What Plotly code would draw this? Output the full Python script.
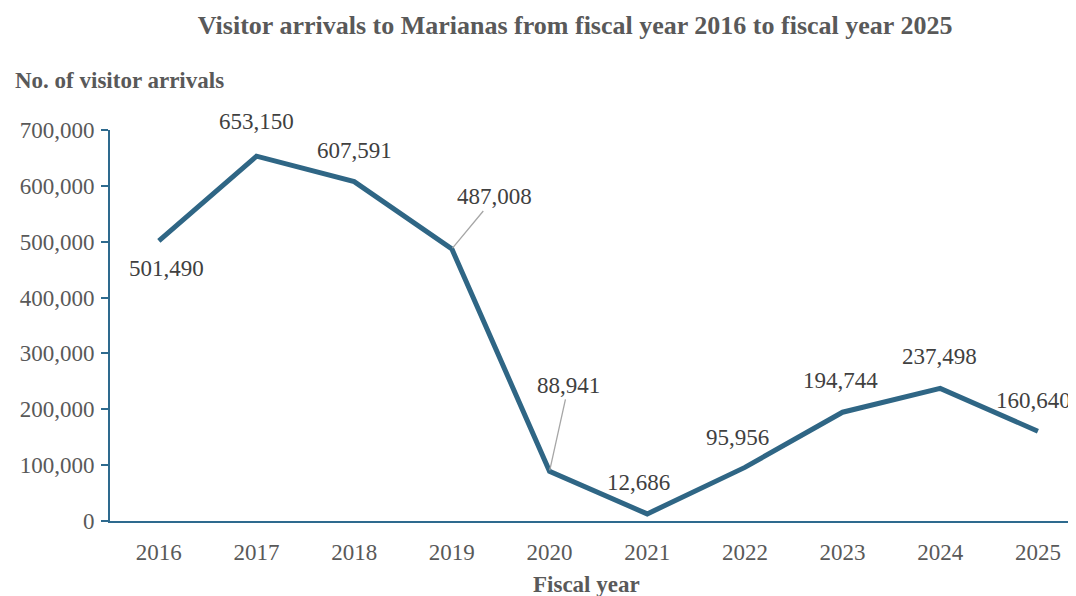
import plotly.graph_objects as go

years = ["2016", "2017", "2018", "2019", "2020", "2021", "2022", "2023", "2024", "2025"]
arrivals = [501490, 653150, 607591, 487008, 88941, 12686, 95956, 194744, 237498, 160640]
label_text = ["501,490", "653,150", "607,591", "487,008", "88,941", "12,686", "95,956", "194,744", "237,498", "160,640"]

LINE = "#2f6685"
AXIS = "#2e6a8e"
TICK = "#595959"
LBL = "#404040"
FONT = "Liberation Serif, Times New Roman, serif"

fig = go.Figure()
fig.add_trace(go.Scatter(x=list(range(len(years))), y=arrivals, mode="lines",
                         line=dict(color=LINE, width=5), hoverinfo="y"))

# label offsets (px): (xshift, yshift) or arrow (ax, ay)
plain = {0: (8, -28), 1: (0, 35), 2: (0, 31), 5: (-9, 31), 6: (-7, 30),
         7: (-2, 32), 8: (-1, 32), 9: (-4, 31)}
arrow = {3: (43, -52), 4: (19, -86)}

for i, (v, t) in enumerate(zip(arrivals, label_text)):
    if i in plain:
        xs, ys = plain[i]
        fig.add_annotation(x=i, y=v, text=t, showarrow=False, xshift=xs, yshift=ys,
                           font=dict(family=FONT, size=23, color=LBL))
    else:
        ax, ay = arrow[i]
        fig.add_annotation(x=i, y=v, text=t, showarrow=True, ax=ax, ay=ay,
                           arrowhead=0, arrowwidth=1.3, arrowcolor="#a6a6a6",
                           standoff=1, startstandoff=0,
                           font=dict(family=FONT, size=23, color=LBL))

fig.add_annotation(text="<b>No. of visitor arrivals</b>", xref="paper", yref="paper",
                   x=-0.1004, xanchor="left", y=1.0, yshift=50, yanchor="middle",
                   showarrow=False, font=dict(family=FONT, size=23, color=TICK))
fig.add_annotation(text="<b>Fiscal year</b>", xref="paper", yref="paper",
                   x=0.493, xanchor="center", y=0.0, yshift=-63, yanchor="middle",
                   showarrow=False, font=dict(family=FONT, size=23, color=TICK))

fig.update_layout(
    width=1068, height=588,
    margin=dict(l=102, r=0, t=122, b=75),
    paper_bgcolor="white", plot_bgcolor="white",
    showlegend=False,
    title=dict(text="<b>Visitor arrivals to Marianas from fiscal year 2016 to fiscal year 2025</b>",
               x=0.531, xanchor="center", y=0.971, yanchor="middle",
               font=dict(family=FONT, size=26, color=TICK)),
    xaxis=dict(range=[-0.5, 9.39], showgrid=False, zeroline=False,
               tickmode="array", tickvals=list(range(len(years))), ticktext=years,
               showline=True, linecolor=AXIS, linewidth=2, ticks="",
               tickfont=dict(family=FONT, size=23, color=TICK), ticklabelstandoff=9),
    yaxis=dict(range=[0, 700000], dtick=100000, showgrid=False, zeroline=False,
               showline=True, linecolor=AXIS, linewidth=2, ticks="outside",
               ticklen=7, tickwidth=2, tickcolor=AXIS, tickformat=",d",
               tickfont=dict(family=FONT, size=23, color=TICK), ticklabelstandoff=2),
)

fig.write_html("out.html")
